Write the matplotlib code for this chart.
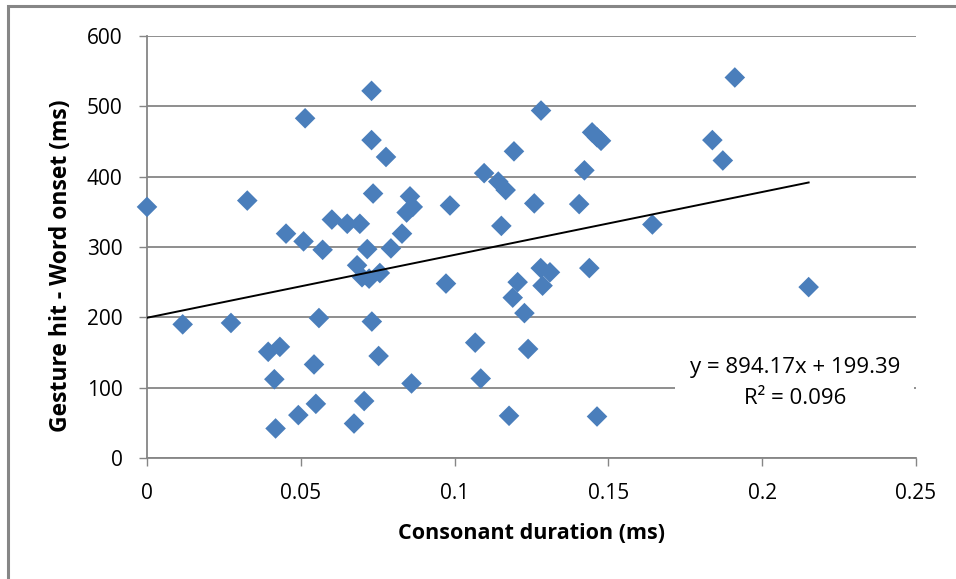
import matplotlib
matplotlib.use("Agg")
import matplotlib.pyplot as plt
from matplotlib.patches import Rectangle

# Data
consonant_duration = [
    0.000, 0.0116, 0.0273, 0.0326, 0.0452, 0.0394, 0.0432, 0.0414, 0.0418, 0.0514,
    0.0509, 0.0492, 0.0571, 0.0559, 0.0543, 0.0549, 0.0601, 0.0651, 0.0692, 0.0683,
    0.0699, 0.0722, 0.0757, 0.0716, 0.0730, 0.0730, 0.0731, 0.0735, 0.0777, 0.0753,
    0.0706, 0.0673, 0.0793, 0.0829, 0.0855, 0.0864, 0.0844, 0.0860, 0.0985, 0.0972,
    0.1067, 0.1085, 0.1096, 0.1142, 0.1166, 0.1152, 0.1193, 0.1177, 0.1189, 0.1205,
    0.1227, 0.1239, 0.1259, 0.1281, 0.1280, 0.1286, 0.1310, 0.1405, 0.1422, 0.1438,
    0.1447, 0.1463, 0.1476, 0.1463, 0.1643, 0.1838, 0.1872, 0.1911, 0.2151,
]
gesture_minus_onset = [
    357, 190, 192, 366, 319, 151, 158, 112, 42, 483,
    308, 61, 296, 199, 133, 77, 339, 333, 333, 274,
    257, 255, 263, 297, 522, 452, 194, 376, 428, 145,
    81, 49, 298, 319, 372, 357, 349, 106, 359, 248,
    164, 113, 405, 393, 381, 330, 436, 60, 228, 250,
    206, 155, 362, 494, 270, 245, 264, 361, 409, 270,
    463, 456, 451, 59, 332, 452, 423, 541, 243,
]
trend_slope = 894.17
trend_intercept = 199.39
r_squared = 0.096
x_ticks = [0, 0.05, 0.1, 0.15, 0.2, 0.25]
x_tick_labels = ["0", "0.05", "0.1", "0.15", "0.2", "0.25"]
y_ticks = [0, 100, 200, 300, 400, 500, 600]
x_label = "Consonant duration (ms)"
y_label = "Gesture hit - Word onset (ms)"

FONT = ["Open Sans", "DejaVu Sans"]
plt.rcParams["font.family"] = FONT

W, H = 956, 579
fig = plt.figure(figsize=(W / 100, H / 100), dpi=100)
fig.patch.set_facecolor("white")

# outer frame (cropped at right and bottom)
fig.add_artist(Rectangle((8 / W, -0.1), 1.2, 1 - 6 / H + 0.1, transform=fig.transFigure,
                         fill=False, edgecolor="#868686", linewidth=2.2))

L, R, T, B = 147, 916, 36, 458
ax = fig.add_axes([L / W, 1 - B / H, (R - L) / W, (B - T) / H])
grid_c = "#868686"

ax.set_xlim(0, 0.25)
ax.set_ylim(0, 600)
ax.set_xticks(x_ticks)
ax.set_xticklabels(x_tick_labels)
ax.set_yticks(y_ticks)
for s in ["top", "right"]:
    ax.spines[s].set_visible(False)
for s in ["left", "bottom"]:
    ax.spines[s].set_color(grid_c)
    ax.spines[s].set_linewidth(1.3)
ax.yaxis.grid(True, color=grid_c, linewidth=1.3)
ax.set_axisbelow(True)
ax.tick_params(axis="both", direction="out", length=6, width=1.0, color=grid_c,
               labelsize=15, labelcolor="black")
ax.tick_params(axis="y", pad=11.5)
ax.tick_params(axis="x", pad=12)

ax.scatter(consonant_duration, gesture_minus_onset, marker="D", s=110,
           color="#4a7ebb", edgecolors="none", zorder=3, clip_on=False)

x_end = max(consonant_duration)
ax.plot([0, x_end], [trend_intercept, trend_intercept + trend_slope * x_end],
        color="black", linewidth=1.4, zorder=4)

# equation label box
ax.add_patch(Rectangle((0.1715, 62), 0.078, 87, facecolor="white", edgecolor="none", zorder=2))
ax.text(0.2107, 129, f"y = {trend_slope:.2f}x + {trend_intercept:.2f}", ha="center", va="center",
        fontsize=16, zorder=5)
ax.text(0.2107, 85, f"R² = {r_squared:.3f}", ha="center", va="center", fontsize=16, zorder=5)

ax.set_xlabel(x_label, fontsize=15.5, fontweight="bold", labelpad=14)
ax.set_ylabel(y_label, fontsize=16.5, fontweight="bold")
ax.yaxis.set_label_coords(-0.096, 0.455)

fig.savefig("out.png", dpi=100)
